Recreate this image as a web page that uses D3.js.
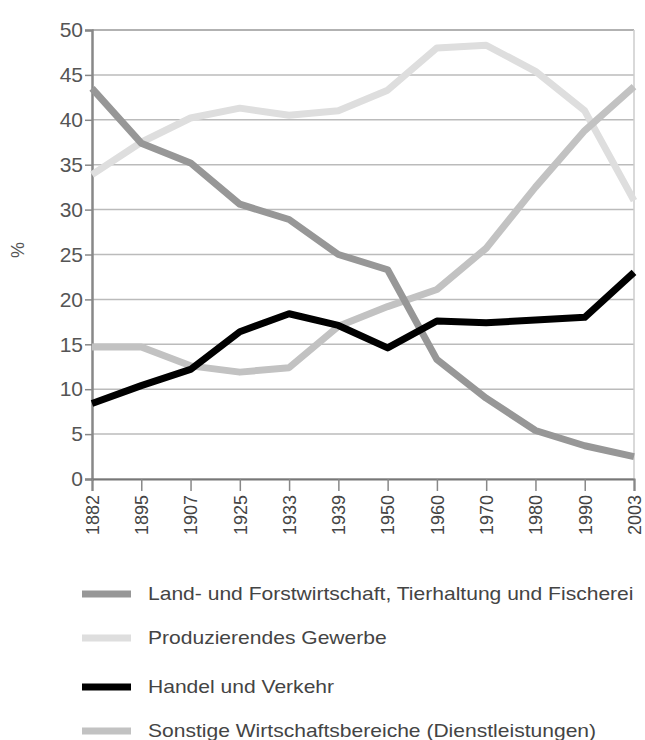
<!DOCTYPE html>
<html>
<head>
<meta charset="utf-8">
<script src="https://cdn.jsdelivr.net/npm/d3@7"></script>
<style>
  body { margin: 0; background: #fff; }
  text { font-family: "Liberation Sans", Arial, sans-serif; }
</style>
</head>
<body>
<div id="container"></div>
<script>
const years = ["1882", "1895", "1907", "1925", "1933", "1939", "1950", "1960", "1970", "1980", "1990", "2003"];
const yTicks = [0, 5, 10, 15, 20, 25, 30, 35, 40, 45, 50];

const land = [43.5, 37.4, 35.2, 30.6, 28.9, 25.0, 23.3, 13.3, 9.0, 5.4, 3.7, 2.5];
const prod = [33.9, 37.5, 40.2, 41.3, 40.5, 41.0, 43.3, 48.0, 48.3, 45.4, 41.0, 31.0];
const handel = [8.4, 10.4, 12.2, 16.4, 18.4, 17.1, 14.6, 17.6, 17.4, 17.7, 18.0, 23.0];
const sonst = [14.7, 14.7, 12.6, 11.9, 12.4, 17.0, 19.2, 21.1, 25.7, 32.5, 38.8, 43.7];

const seriesNames = [
  "Land- und Forstwirtschaft, Tierhaltung und Fischerei",
  "Produzierendes Gewerbe",
  "Handel und Verkehr",
  "Sonstige Wirtschaftsbereiche (Dienstleistungen)"
];
const seriesValues = [land, prod, handel, sonst];
const seriesColors = ["#979797", "#dedede", "#000000", "#c2c2c2"];
const drawOrder = [1, 3, 0, 2];

const W = 645, H = 740;
const PLOT_L = 92, PLOT_R = 634, PLOT_T = 30, PLOT_B = 479;

const svg = d3.select("#container")
  .append("svg")
  .attr("width", W)
  .attr("height", H);

const x = d3.scalePoint().domain(years).range([PLOT_L, PLOT_R]);
const y = d3.scaleLinear().domain([0, 50]).range([PLOT_B, PLOT_T]);

// grid
svg.append("g")
  .selectAll("line")
  .data(yTicks)
  .enter()
  .append("line")
  .attr("x1", PLOT_L)
  .attr("x2", PLOT_R)
  .attr("y1", d => y(d))
  .attr("y2", d => y(d))
  .attr("stroke", d => (d === 50 ? "#999" : "#bbb"))
  .attr("stroke-width", 1.5);

// right border
svg.append("line")
  .attr("x1", PLOT_R).attr("x2", PLOT_R)
  .attr("y1", PLOT_T).attr("y2", PLOT_B)
  .attr("stroke", "#ccc")
  .attr("stroke-width", 1.5);

// y axis
const yAxis = svg.append("g")
  .attr("transform", `translate(${PLOT_L},0)`)
  .call(d3.axisLeft(y).tickValues(yTicks).tickSize(7).tickPadding(2));
yAxis.select(".domain").attr("stroke", "#888").attr("stroke-width", 2.5);
yAxis.selectAll(".tick line").attr("stroke", "#888").attr("stroke-width", 1.5);
yAxis.selectAll(".tick text")
  .style("font-size", "21px")
  .attr("fill", "#555");

svg.append("text")
  .attr("transform", `translate(18,250) rotate(-90)`)
  .attr("text-anchor", "middle")
  .attr("dy", "0.35em")
  .style("font-size", "18px")
  .attr("fill", "#555")
  .text("%");

// x axis
const xAxis = svg.append("g")
  .attr("transform", `translate(0,${PLOT_B})`)
  .call(d3.axisBottom(x).tickSize(12).tickPadding(4));
xAxis.select(".domain").attr("stroke", "#777").attr("stroke-width", 2);
xAxis.selectAll(".tick line").attr("stroke", "#888").attr("stroke-width", 1.5);
xAxis.selectAll(".tick text")
  .attr("transform", "rotate(-90)")
  .attr("x", -16)
  .attr("y", 0)
  .attr("dy", "0.35em")
  .style("text-anchor", "end")
  .style("font-size", "18px")
  .attr("fill", "#444");

// lines
const line = d3.line()
  .x((d, i) => x(years[i]))
  .y(d => y(d));

drawOrder.forEach(k => {
  svg.append("path")
    .datum(seriesValues[k])
    .attr("d", line)
    .attr("fill", "none")
    .attr("stroke", seriesColors[k])
    .attr("stroke-width", 7)
    .attr("stroke-linejoin", "round");
});

// legend
const legendY = [594, 638, 687, 731];
const legend = svg.append("g").attr("class", "legend");
seriesNames.forEach((name, k) => {
  legend.append("line")
    .attr("x1", 82).attr("x2", 131)
    .attr("y1", legendY[k]).attr("y2", legendY[k])
    .attr("stroke", seriesColors[k])
    .attr("stroke-width", 7);
  legend.append("text")
    .attr("transform", `translate(148,${legendY[k]}) scale(1.17,1)`)
    .attr("dy", "0.35em")
    .style("font-size", "18px")
    .attr("fill", "#444")
    .text(name);
});
</script>
</body>
</html>
